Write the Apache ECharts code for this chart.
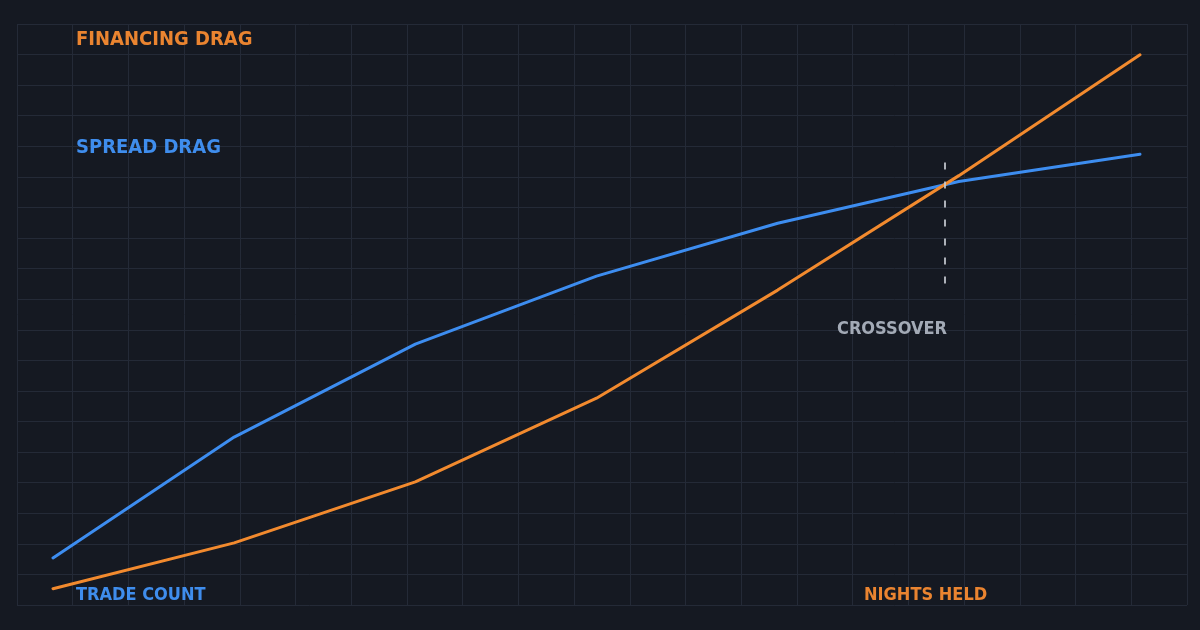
<!DOCTYPE html>
<html>
<head>
<meta charset="utf-8">
<script src="https://cdn.jsdelivr.net/npm/echarts@6/dist/echarts.min.js"></script>
<style>
html,body{margin:0;padding:0;background:#151922;}
#c{width:1200px;height:630px;}
</style>
</head>
<body>
<div id="c"></div>
<script>
// Data
const steps = [0, 1, 2, 3, 4, 5, 6];
const spreadDrag = [8.1, 28.9, 44.9, 56.6, 65.7, 72.9, 77.6];
const financingDrag = [2.8, 10.7, 21.2, 35.6, 54.2, 73.9, 94.7];
const labels = {
  financing: 'FINANCING DRAG',
  spread: 'SPREAD DRAG',
  tradeCount: 'TRADE COUNT',
  nightsHeld: 'NIGHTS HELD',
  crossover: 'CROSSOVER'
};

// crossover point computed from data
let cross = null;
for (let i = 0; i < steps.length - 1; i++) {
  const d0 = spreadDrag[i] - financingDrag[i];
  const d1 = spreadDrag[i + 1] - financingDrag[i + 1];
  if (d0 > 0 && d1 <= 0) {
    const t = d0 / (d0 - d1);
    cross = {
      x: steps[i] + t * (steps[i + 1] - steps[i]),
      y: spreadDrag[i] + t * (spreadDrag[i + 1] - spreadDrag[i])
    };
    break;
  }
}

const ORANGE = '#f28a2e';
const BLUE = '#3d8df0';
const FONT = 'DejaVu Sans Condensed';

const chart = echarts.init(document.getElementById('c'), null, {renderer: 'canvas'});
const textStyle = (color, size) => ({color: color, fontSize: size, fontWeight: 'bold', fontFamily: FONT});

chart.setOption({
  backgroundColor: '#151922',
  animation: false,
  title: [
    {text: labels.financing, left: 76, top: 30, padding: 0, textStyle: textStyle('#ea8430', 20)},
    {text: labels.spread, left: 76, top: 138, padding: 0, textStyle: textStyle('#3f8ded', 20)},
    {text: labels.tradeCount, left: 76, top: 586, padding: 0, textStyle: textStyle('#3f8ded', 18)},
    {text: labels.nightsHeld, left: 864, top: 586, padding: 0, textStyle: textStyle('#ea8430', 18)},
    {text: labels.crossover, left: 837, top: 320, padding: 0, textStyle: textStyle('#a3aab6', 18)}
  ],
  grid: [
    {left: 17, right: 13, top: 24, bottom: 25, show: false},
    {left: 53, right: 60, top: 24, bottom: 25, show: false}
  ],
  xAxis: [
    {type: 'value', gridIndex: 0, min: 0, max: 21, interval: 1,
     axisLine: {show: false}, axisTick: {show: false}, axisLabel: {show: false},
     splitLine: {show: true, lineStyle: {color: '#242a37', width: 1}}},
    {type: 'value', gridIndex: 1, min: 0, max: 6,
     axisLine: {show: false}, axisTick: {show: false}, axisLabel: {show: false}, splitLine: {show: false}}
  ],
  yAxis: [
    {type: 'value', gridIndex: 0, min: 0, max: 19, interval: 1,
     axisLine: {show: false}, axisTick: {show: false}, axisLabel: {show: false},
     splitLine: {show: true, lineStyle: {color: '#242a37', width: 1}}},
    {type: 'value', gridIndex: 1, min: 0, max: 100,
     axisLine: {show: false}, axisTick: {show: false}, axisLabel: {show: false}, splitLine: {show: false}}
  ],
  series: [
    {
      name: 'Spread drag', type: 'line', xAxisIndex: 1, yAxisIndex: 1,
      data: steps.map((s, i) => [s, spreadDrag[i]]),
      showSymbol: false, symbol: 'none',
      lineStyle: {color: BLUE, width: 3, cap: 'round', join: 'round'}
    },
    {
      name: 'Financing drag', type: 'line', xAxisIndex: 1, yAxisIndex: 1,
      data: steps.map((s, i) => [s, financingDrag[i]]),
      showSymbol: false, symbol: 'none',
      lineStyle: {color: ORANGE, width: 3, cap: 'round', join: 'round'},
      markLine: cross ? {
        silent: true, symbol: ['none', 'none'],
        label: {show: false},
        lineStyle: {color: '#c8ccd4', width: 2, type: [7, 12], opacity: 0.85},
        data: [[{coord: [cross.x, cross.y - 17]}, {coord: [cross.x, cross.y + 4]}]]
      } : undefined
    }
  ]
});
</script>
</body>
</html>
